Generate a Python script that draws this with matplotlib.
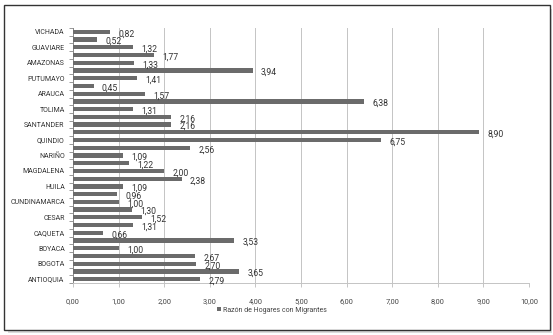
import matplotlib
matplotlib.use("Agg")
import matplotlib.pyplot as plt
from matplotlib.patches import Rectangle
import numpy as np

# departments, bottom to top (DANE order)
departamentos = [
    "ANTIOQUIA", "ATLANTICO", "BOGOTA", "BOLIVAR", "BOYACA", "CALDAS",
    "CAQUETA", "CAUCA", "CESAR", "CORDOBA", "CUNDINAMARCA", "CHOCO",
    "HUILA", "LA GUAJIRA", "MAGDALENA", "META", "NARIÑO", "NORTE DE SANTANDER",
    "QUINDIO", "RISARALDA", "SANTANDER", "SUCRE", "TOLIMA", "VALLE",
    "ARAUCA", "CASANARE", "PUTUMAYO", "SAN ANDRES", "AMAZONAS", "GUAINIA",
    "GUAVIARE", "VAUPES", "VICHADA",
]
razon = [
    2.79, 3.65, 2.70, 2.67, 1.00, 3.53,
    0.66, 1.31, 1.52, 1.30, 1.00, 0.96,
    1.09, 2.38, 2.00, 1.22, 1.09, 2.56,
    6.75, 8.90, 2.16, 2.16, 1.31, 6.38,
    1.57, 0.45, 1.41, 3.94, 1.33, 1.77,
    1.32, 0.52, 0.82,
]
xticks = np.arange(0, 11, 1)
serie = "Razón de Hogares con Migrantes"

plt.rcParams["font.family"] = ["Roboto", "DejaVu Sans"]

fig = plt.figure(figsize=(5.53, 3.35), dpi=100)
ax = fig.add_axes([73 / 553, 1 - 283 / 335, (529 - 73) / 553, (283 - 28) / 335])

y = np.arange(len(departamentos))
ax.barh(y, razon, height=0.55, color="#6b6b6b", zorder=3, label=serie)
for yi, v in zip(y, razon):
    ax.annotate(f"{v:.2f}".replace(".", ","), (v, yi), xytext=(6, -1.5),
                textcoords="offset points", va="center", ha="left",
                fontsize=6.2, color="#333333")

ax.set_xlim(0, 10)
ax.set_ylim(-0.5, len(departamentos) - 0.5)
ax.set_xticks(xticks)
ax.set_xticklabels([f"{t:.2f}".replace(".", ",") for t in xticks], fontsize=5.3, color="#444444")
ax.set_yticks(y[::2])
ax.set_yticklabels(departamentos[::2], fontsize=5, color="#333333")
ax.set_yticks(np.arange(-0.5, len(departamentos), 1), minor=True)
ax.tick_params(axis="y", which="major", length=0, pad=6)
ax.tick_params(axis="y", which="minor", length=3, color="#888888", width=0.6)
ax.tick_params(axis="x", length=3, color="#bbbbbb", width=0.6, pad=8)
ax.grid(axis="x", color="#c4c4c4", linewidth=0.7, zorder=0)
for s in ["top", "right"]:
    ax.spines[s].set_visible(False)
ax.spines["bottom"].set_color("#c4c4c4")
ax.spines["bottom"].set_linewidth(0.7)
ax.spines["left"].set_color("#888888")
ax.spines["left"].set_linewidth(0.7)

fig.legend(loc="center", bbox_to_anchor=(272 / 553, 1 - 310 / 335), frameon=False,
           fontsize=5, handlelength=0.6, handleheight=0.6, handletextpad=0.3,
           labelcolor="#444444")

# outer frame with shadow
fig.patches.append(Rectangle((8 / 553, 1 - 333 / 335), 544 / 553, 324 / 335,
                             transform=fig.transFigure, facecolor="#dcdcdc",
                             edgecolor="none", zorder=-2))
fig.patches.append(Rectangle((4 / 553, 1 - 330 / 335), 546 / 553, 325 / 335,
                             transform=fig.transFigure, facecolor="white",
                             edgecolor="#333333", linewidth=1.0, zorder=-1))

fig.savefig("out.png", dpi=100)
